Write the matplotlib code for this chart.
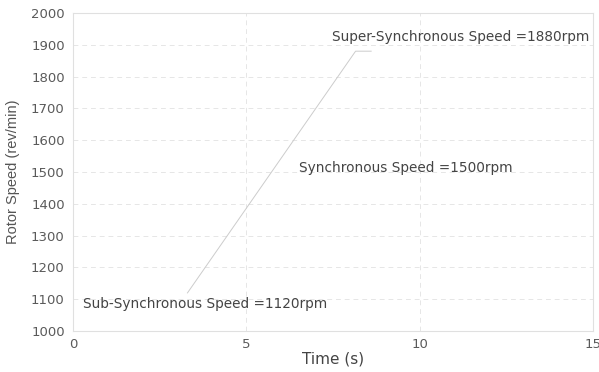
import matplotlib
matplotlib.use("Agg")
import matplotlib.pyplot as plt

# rotor speed ramp (time in s, speed in rev/min)
time_s = [3.3, 8.15, 8.6]
speed_rpm = [1120, 1880, 1880]

x_ticks = [0, 5, 10, 15]
y_ticks = list(range(1000, 2001, 100))

# operating-point labels: (text, x, y)
labels = [
    ("Super-Synchronous Speed =1880rpm", 7.47, 1924),
    ("Synchronous Speed =1500rpm", 6.52, 1514),
    ("Sub-Synchronous Speed =1120rpm", 0.29, 1085),
]

plt.rcParams["font.family"] = ["DejaVu Sans"]

fig = plt.figure(figsize=(5.99, 3.72), dpi=100)
ax = fig.add_axes([0.122, 0.110, 0.868, 0.855])

ax.plot(time_s, speed_rpm, color="#cccccc", linewidth=0.7)

ax.set_xlim(0, 15)
ax.set_ylim(1000, 2000)
ax.set_xticks(x_ticks)
ax.set_yticks(y_ticks)
ax.tick_params(length=0, labelsize=9.5, labelcolor="#5a5a5a", pad=6)
ax.tick_params(axis="x", pad=5)

ax.grid(True, color="#e6e6e6", linestyle=(0, (5, 4)), linewidth=0.7)
for side in ["left", "bottom", "right", "top"]:
    ax.spines[side].set_color("#e0e0e0")
    ax.spines[side].set_linewidth(0.8)

ax.set_xlabel("Time (s)", fontsize=11, color="#444444", labelpad=0)
ax.set_ylabel("Rotor Speed (rev/min)", fontsize=10.5, color="#555555",
              family=["Liberation Sans"], labelpad=8)

for text, tx, ty in labels:
    ax.text(tx, ty, text, fontsize=9.8, color="#444444", va="center", ha="left")

fig.savefig("out.png", dpi=100)
